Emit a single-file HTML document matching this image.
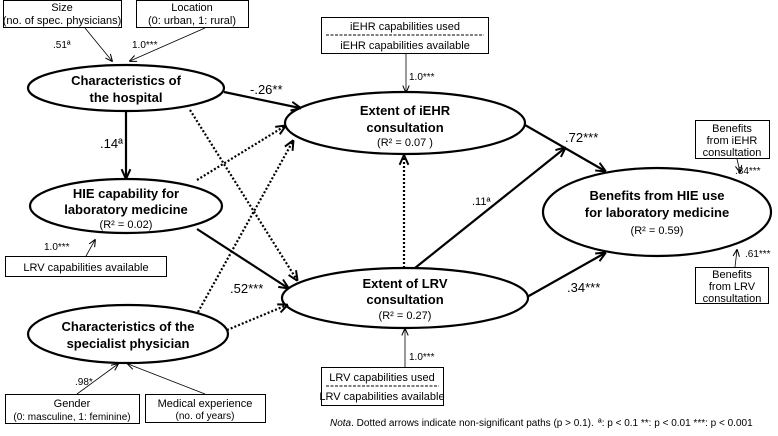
<!DOCTYPE html>
<html><head><meta charset="utf-8"><style>
html,body{margin:0;padding:0;background:#fff;}
svg{display:block;font-family:"Liberation Sans",sans-serif;}
.b{font-weight:bold;font-size:13px;}
.s{font-size:11px;}
.l{font-size:13px;}
.m{font-size:10px;}
</style></head><body>
<svg width="778" height="436" viewBox="0 0 778 436" xmlns="http://www.w3.org/2000/svg">
<defs>
<marker id="t" viewBox="0 0 10 10" refX="9" refY="5" markerWidth="8" markerHeight="8" markerUnits="userSpaceOnUse" orient="auto"><path d="M1,1 L10,5 L1,9" fill="none" stroke="#000" stroke-width="1.3"/></marker>
<marker id="T" viewBox="0 0 10 10" refX="9" refY="5" markerWidth="11" markerHeight="11" markerUnits="userSpaceOnUse" orient="auto"><path d="M1,1 L10,5 L1,9" fill="none" stroke="#000" stroke-width="1.8"/></marker>
</defs>
<g fill="none" stroke="#000">
<rect x="3.5" y="0.5" width="118" height="27"/>
<rect x="136.5" y="0.5" width="112" height="27"/>
<rect x="321.5" y="17.5" width="167" height="36"/>
<line x1="326" y1="35" x2="484" y2="35" stroke-dasharray="3,1.5"/>
<rect x="5.5" y="256.5" width="161" height="20"/>
<rect x="5.5" y="394.5" width="134" height="29"/>
<rect x="145.5" y="394.5" width="120" height="28"/>
<rect x="321.5" y="367.5" width="122" height="38"/>
<line x1="326" y1="386" x2="439" y2="386" stroke-dasharray="3,1.5"/>
<rect x="695.5" y="120.5" width="74" height="38"/>
<rect x="695.5" y="267.5" width="73" height="36"/>
<g stroke-width="2.2">
<ellipse cx="126" cy="88" rx="98" ry="23"/>
<ellipse cx="126" cy="206" rx="96" ry="27"/>
<ellipse cx="128" cy="334" rx="100" ry="29"/>
<ellipse cx="405" cy="123" rx="120" ry="31"/>
<ellipse cx="405" cy="298" rx="123" ry="30"/>
<ellipse cx="657" cy="212" rx="114" ry="44"/>
</g>
<g stroke-width="0.8" marker-end="url(#t)">
<line x1="85" y1="28" x2="112" y2="61"/>
<line x1="205" y1="28" x2="130" y2="61"/>
<line x1="406" y1="54" x2="406" y2="92"/>
<line x1="86" y1="256" x2="95" y2="240"/>
<line x1="77" y1="394" x2="118" y2="364"/>
<line x1="205" y1="394" x2="128" y2="364"/>
<line x1="405" y1="367" x2="405" y2="329"/>
<line x1="737" y1="159" x2="740" y2="172"/>
<line x1="735" y1="267" x2="737" y2="250"/>
</g>
<g stroke-width="2.2" marker-end="url(#T)">
<line x1="224" y1="92" x2="300" y2="108"/>
<line x1="126" y1="111" x2="126" y2="178"/>
<line x1="197" y1="229" x2="288" y2="288"/>
<line x1="415" y1="268" x2="565" y2="148"/>
<line x1="525" y1="125" x2="605" y2="171"/>
<line x1="527" y1="297" x2="605" y2="253"/>
</g>
<g stroke-width="2.2" stroke-dasharray="2,2" marker-end="url(#T)">
<line x1="190" y1="110" x2="297" y2="280"/>
<line x1="197" y1="180" x2="285" y2="126"/>
<line x1="198" y1="312" x2="293" y2="141"/>
<line x1="227" y1="330" x2="287" y2="305"/>
<line x1="404" y1="268" x2="404" y2="156"/>
</g>
</g>
<g text-anchor="middle">
<text x="62" y="11" class="s">Size</text>
<text x="62" y="24" class="s">(no. of spec. physicians)</text>
<text x="192" y="11" class="s">Location</text>
<text x="192" y="24" class="s">(0: urban, 1:  rural)</text>
<text x="405" y="30" class="s">iEHR capabilities used</text>
<text x="405" y="49" class="s">iEHR capabilities available</text>
<text x="86" y="271" class="s">LRV capabilities available</text>
<text x="72" y="407" class="s">Gender</text>
<text x="72" y="420" class="m">(0: masculine, 1: feminine)</text>
<text x="205" y="407" class="s">Medical experience</text>
<text x="205" y="419" class="m">(no. of years)</text>
<text x="382" y="381" class="s">LRV capabilities used</text>
<text x="382" y="400" class="s">LRV capabilities available</text>
<text x="732" y="132" class="s">Benefits</text>
<text x="732" y="144" class="s">from iEHR</text>
<text x="732" y="156" class="s">consultation</text>
<text x="732" y="278" class="s">Benefits</text>
<text x="732" y="290" class="s">from LRV</text>
<text x="732" y="302" class="s">consultation</text>

<text x="126" y="85" class="b">Characteristics of</text>
<text x="126" y="102" class="b">the hospital</text>
<text x="126" y="198" class="b">HIE capability for</text>
<text x="126" y="214" class="b">laboratory medicine</text>
<text x="126" y="228" class="s">(R² = 0.02)</text>
<text x="128" y="331" class="b">Characteristics of the</text>
<text x="128" y="348" class="b">specialist physician</text>
<text x="405" y="115" class="b">Extent of iEHR</text>
<text x="405" y="132" class="b">consultation</text>
<text x="405" y="146" class="s">(R² = 0.07 )</text>
<text x="405" y="288" class="b">Extent of LRV</text>
<text x="405" y="304" class="b">consultation</text>
<text x="405" y="319" class="s">(R² = 0.27)</text>
<text x="657" y="200" class="b">Benefits from HIE use</text>
<text x="657" y="217" class="b">for laboratory medicine</text>
<text x="657" y="234" class="s">(R² = 0.59)</text>
</g>
<g>
<text x="53" y="48" class="m">.51ª</text>
<text x="132" y="48" class="m">1.0***</text>
<text x="409" y="80" class="m">1.0***</text>
<text x="44" y="250" class="m">1.0***</text>
<text x="75" y="385" class="m">.98*</text>
<text x="409" y="360" class="m">1.0***</text>
<text x="735" y="174" class="m">.84***</text>
<text x="745" y="257" class="m">.61***</text>
<text x="250" y="94" class="l">-.26**</text>
<text x="100" y="148" class="l">.14ª</text>
<text x="230" y="293" class="l">.52***</text>
<text x="472" y="205" class="s">.11ª</text>
<text x="565" y="142" class="l">.72***</text>
<text x="567" y="292" class="l">.34***</text>
<text x="330" y="426" class="m"><tspan font-style="italic">Nota</tspan>. Dotted arrows indicate non-significant paths (p &gt; 0.1).</text>
<text x="598" y="426" class="m">ª: p &lt; 0.1  **: p &lt; 0.01  ***: p &lt; 0.001</text>
</g>
</svg>
</body></html>
